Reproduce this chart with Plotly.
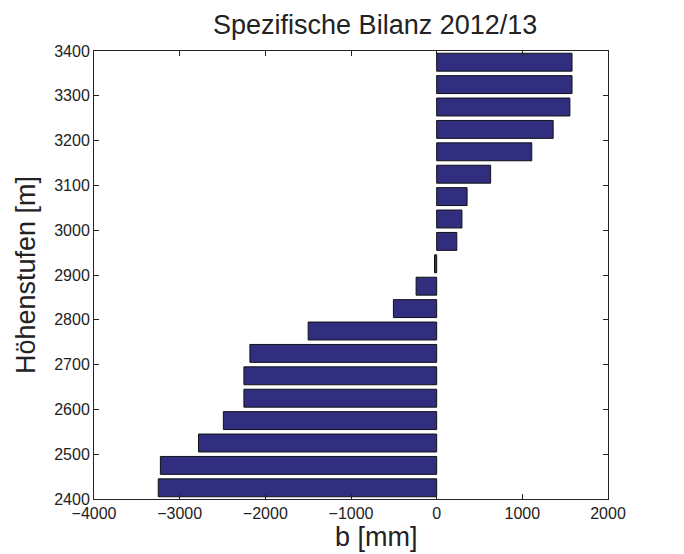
import plotly.graph_objects as go

# Elevation band centres [m]
hoehenstufen = [2425, 2475, 2525, 2575, 2625, 2675, 2725, 2775, 2825, 2875,
                2925, 2975, 3025, 3075, 3125, 3175, 3225, 3275, 3325, 3375]
# Specific balance [mm]
bilanz = [-3250, -3225, -2780, -2490, -2250, -2250, -2180, -1500, -505, -240,
          -25, 235, 295, 355, 630, 1110, 1360, 1555, 1580, 1580]

x_ticks = [-4000, -3000, -2000, -1000, 0, 1000, 2000]
x_ticktext = ["\u22124000", "\u22123000", "\u22122000", "\u22121000", "0", "1000", "2000"]
y_ticks = [2400, 2500, 2600, 2700, 2800, 2900, 3000, 3100, 3200, 3300, 3400]

font_family = "Liberation Sans, Arial, Helvetica, sans-serif"

fig = go.Figure(go.Bar(
    x=bilanz, y=hoehenstufen, orientation="h", width=40,
    marker=dict(color="#312e7f", line=dict(color="#111111", width=1)),
))

fig.update_layout(
    width=684, height=554,
    margin=dict(l=86, r=84, t=43, b=63),
    paper_bgcolor="white", plot_bgcolor="white",
    showlegend=False,
    font=dict(family=font_family, color="#222222", size=16),
    title=dict(text="Spezifische Bilanz 2012/13", x=0.547, xanchor="center",
               xref="paper", y=1, yref="container", yanchor="top", pad=dict(t=7),
               font=dict(size=27, family=font_family, color="#222222")),
    annotations=[dict(text="b [mm]", xref="paper", yref="paper", x=0.55, y=-0.047,
                      xanchor="center", yanchor="top", showarrow=False,
                      font=dict(size=27, family=font_family, color="#222222"))],
)

axis_common = dict(
    showgrid=False, zeroline=False, showline=True, linecolor="#222222",
    linewidth=1, mirror="ticks", ticks="inside", ticklen=5,
    tickcolor="#222222", tickfont=dict(size=16, family=font_family),
    automargin=False,
)

fig.update_xaxes(range=[-4000, 2000], tickvals=x_ticks, ticktext=x_ticktext,
                 **axis_common)
fig.update_yaxes(range=[2400, 3400], tickvals=y_ticks,
                 title=dict(text="Höhenstufen [m]", font=dict(size=27), standoff=10),
                 **axis_common)

fig.write_html("out.html")
